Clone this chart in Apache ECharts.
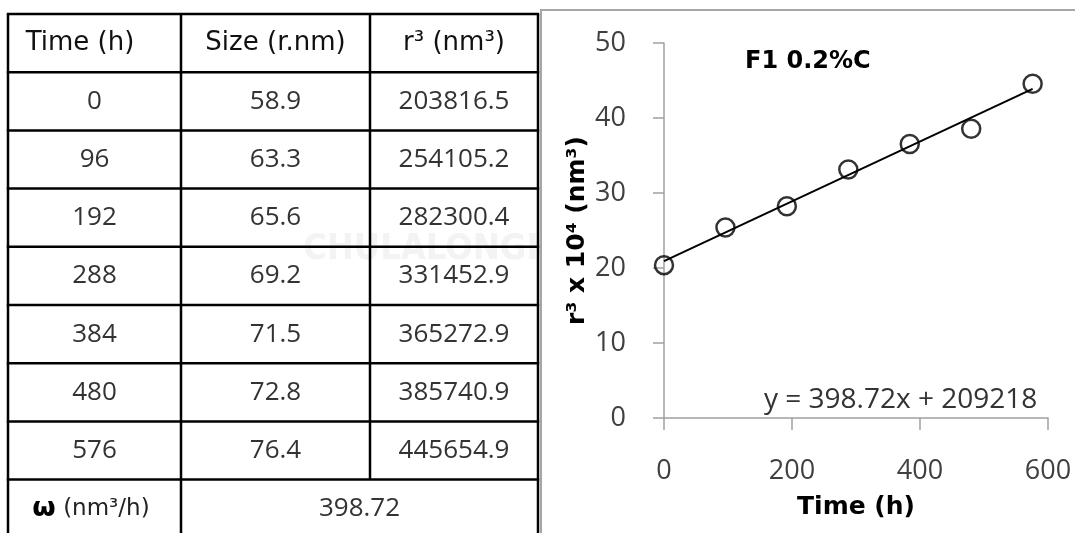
<!DOCTYPE html>
<html>
<head>
<meta charset="utf-8">
<script src="https://cdn.jsdelivr.net/npm/echarts@6/dist/echarts.min.js"></script>
<style>
  html, body { margin: 0; padding: 0; background: #fff; }
  #chart { width: 1075px; height: 533px; }
</style>
</head>
<body>
<div id="chart"></div>
<script>
// Ostwald ripening data: particle radius over time and its cube
const times = [0, 96, 192, 288, 384, 480, 576];
const sizes = [58.9, 63.3, 65.6, 69.2, 71.5, 72.8, 76.4];
const r3Values = [203816.5, 254105.2, 282300.4, 331452.9, 365272.9, 385740.9, 445654.9];
const headers = ['Time (h)', 'Size (r.nm)', 'r\u00B3 (nm\u00B3)'];
const rateLabel = 'ω';
const rateUnit = ' (nm\u00B3/h)';
const slope = 398.72;
const intercept = 209218;
const yScale = 1e4;
const xTicks = [0, 200, 400, 600];
const yTicks = [0, 10, 20, 30, 40, 50];
const sampleName = 'F1 0.2%C';

const chart = echarts.init(document.getElementById('chart'), null, { renderer: 'canvas' });

// ---- table on the left, built as graphic elements ----
const colX = [8, 181, 370, 538];
const tableTop = 14;
const rowH = 58.2;
const nRows = times.length + 2;
const lineStyle = { stroke: '#000', lineWidth: 2.5 };
const graphics = [];

// chart panel frame (white background covers the faint watermark)
graphics.push({
  type: 'rect', z: -10,
  shape: { x: 541, y: 10, width: 560, height: 560 },
  style: { fill: '#fff', stroke: '#a6a6a6', lineWidth: 2 }
});

// faint watermark lettering behind the table
graphics.push({
  type: 'text', z: -20, x: 303, y: 250,
  style: {
    text: 'CHULALONGKORN', fill: '#f3f3f3',
    fontFamily: 'DejaVu Sans Condensed, DejaVu Sans', fontWeight: 'bold', fontSize: 36,
    align: 'left', verticalAlign: 'middle'
  }
});

const tableBottom = tableTop + nRows * rowH;
for (let r = 0; r <= nRows; r++) {
  const y = tableTop + r * rowH;
  graphics.push({ type: 'line', shape: { x1: colX[0] - 1.2, y1: y, x2: colX[3] + 1.2, y2: y }, style: lineStyle });
}
[colX[0], colX[1], colX[3]].forEach(function (x) {
  graphics.push({ type: 'line', shape: { x1: x, y1: tableTop, x2: x, y2: tableBottom }, style: lineStyle });
});
graphics.push({ type: 'line', shape: { x1: colX[2], y1: tableTop, x2: colX[2], y2: tableTop + (nRows - 1) * rowH }, style: lineStyle });

function cellText(text, cx, cy, opts) {
  return {
    type: 'text', x: cx, y: cy,
    style: Object.assign({
      text: text, fill: '#333', fontFamily: 'Open Sans', fontSize: 26,
      align: 'center', verticalAlign: 'middle'
    }, opts || {})
  };
}
const colCenter = [80, (colX[1] + colX[2]) / 2, (colX[2] + colX[3]) / 2];
const headerY = tableTop + rowH / 2;
headers.forEach(function (h, i) {
  graphics.push(cellText(h, colCenter[i], headerY, { fill: '#111', fontFamily: 'DejaVu Sans', fontSize: 26 }));
});
times.forEach(function (t, i) {
  const cy = tableTop + (i + 1.5) * rowH;
  graphics.push(cellText(String(t), (colX[0] + colX[1]) / 2, cy));
  graphics.push(cellText(sizes[i].toFixed(1), colCenter[1], cy));
  graphics.push(cellText(r3Values[i].toFixed(1), colCenter[2], cy));
});
const rateY = tableTop + (nRows - 0.5) * rowH;
graphics.push({
  type: 'text', x: 91, y: rateY,
  style: {
    text: '{w|' + rateLabel + '}{u|' + rateUnit + '}',
    align: 'center', verticalAlign: 'middle',
    rich: {
      w: { fontFamily: 'DejaVu Sans', fontWeight: 'bold', fontSize: 27, fill: '#000' },
      u: { fontFamily: 'DejaVu Sans', fontSize: 23, fill: '#222' }
    }
  }
});
graphics.push(cellText(slope.toFixed(2), (colX[1] + colX[3]) / 2, rateY));

// ---- labels inside the plot ----
graphics.push({
  type: 'text', x: 745, y: 62,
  style: {
    text: sampleName, fill: '#000', fontFamily: 'DejaVu Sans', fontWeight: 'bold', fontSize: 24,
    align: 'left', verticalAlign: 'middle'
  }
});
graphics.push({
  type: 'text', x: 764, y: 400,
  style: {
    text: 'y = ' + slope.toFixed(2) + 'x + ' + intercept, fill: '#333',
    fontFamily: 'Open Sans', fontSize: 28, align: 'left', verticalAlign: 'middle'
  }
});

// scatter points in units of 10^4 nm^3
const points = times.map(function (t, i) { return [t, r3Values[i] / yScale]; });
// linear fit line over the measured time range
const fitLine = [times[0], times[times.length - 1]].map(function (t) {
  return [t, (slope * t + intercept) / yScale];
});

const axisGray = '#a0a0a0';
const tickFont = { fontFamily: 'Open Sans', fontSize: 27, color: '#404040' };

chart.setOption({
  animation: false,
  backgroundColor: '#fff',
  graphic: graphics,
  grid: { left: 664, right: 27, top: 43, bottom: 115 },
  xAxis: {
    type: 'value',
    min: xTicks[0], max: xTicks[xTicks.length - 1], interval: xTicks[1] - xTicks[0],
    name: 'Time (h)', nameLocation: 'middle', nameGap: 77,
    nameTextStyle: { fontFamily: 'DejaVu Sans', fontWeight: 'bold', fontSize: 25, color: '#000' },
    axisLine: { show: true, lineStyle: { color: axisGray, width: 1.5 } },
    axisTick: { show: true, length: 12, lineStyle: { color: axisGray, width: 1.5 } },
    axisLabel: Object.assign({ margin: 40 }, tickFont),
    splitLine: { show: false }
  },
  yAxis: {
    type: 'value',
    min: yTicks[0], max: yTicks[yTicks.length - 1], interval: yTicks[1] - yTicks[0],
    name: 'r\u00B3 x 10\u2074 (nm\u00B3)', nameLocation: 'middle', nameGap: 74,
    nameTextStyle: { fontFamily: 'DejaVu Sans', fontWeight: 'bold', fontSize: 25, color: '#000' },
    axisLine: { show: true, lineStyle: { color: axisGray, width: 1.5 } },
    axisTick: { show: true, length: 11, lineStyle: { color: axisGray, width: 1.5 } },
    axisLabel: Object.assign({ margin: 38 }, tickFont),
    splitLine: { show: false }
  },
  series: [
    {
      type: 'line',
      data: fitLine,
      showSymbol: false,
      symbol: 'none',
      lineStyle: { color: '#000', width: 2 },
      z: 3
    },
    {
      type: 'scatter',
      data: points,
      symbol: 'circle',
      symbolSize: 18,
      itemStyle: { color: 'rgba(0,0,0,0)', borderColor: '#000', borderWidth: 2.5 },
      z: 4
    }
  ]
});
</script>
</body>
</html>
